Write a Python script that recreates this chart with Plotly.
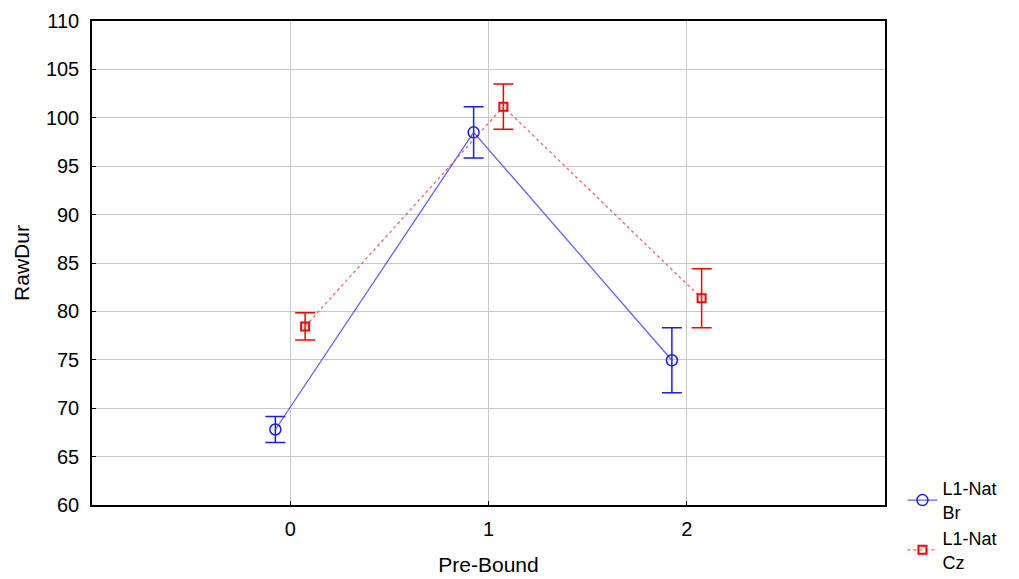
import plotly.graph_objects as go

categories = [0, 1, 2]
br_mean = [67.8, 98.5, 74.95]
br_err = [1.35, 2.65, 3.35]
cz_mean = [78.45, 101.15, 81.35]
cz_err = [1.4, 2.33, 3.05]
offset = 0.075

fig = go.Figure()
fig.add_trace(go.Scatter(
    x=[c - offset for c in categories], y=br_mean,
    mode="lines+markers", name="L1-Nat<br>Br",
    line=dict(color="rgba(70,70,255,0.85)", width=1.3),
    marker=dict(symbol="circle-open", size=11, color="#1a1aff", line=dict(width=1.5)),
    error_y=dict(type="data", array=br_err, visible=True, color="#1a1aff", thickness=1.5, width=10),
))
fig.add_trace(go.Scatter(
    x=[c + offset for c in categories], y=cz_mean,
    mode="lines+markers", name="L1-Nat<br>Cz",
    line=dict(color="rgba(255,70,70,0.85)", width=1.3, dash="dot"),
    marker=dict(symbol="square-open", size=8, color="#ff0000", line=dict(width=2)),
    error_y=dict(type="data", array=cz_err, visible=True, color="#ff0000", thickness=1.5, width=10),
))

# page body has an 8px default margin; compensate so the plot area lands where the reference has it
fig.update_layout(
    width=1011, height=571,
    margin=dict(l=84, r=134, t=13, b=74, autoexpand=False),
    paper_bgcolor="white", plot_bgcolor="white",
    font=dict(family="Liberation Sans, Arial, sans-serif", size=20, color="black"),
    showlegend=True,
    legend=dict(x=1.022, xanchor="left", y=0.072, yanchor="top",
                bgcolor="rgba(0,0,0,0)", font=dict(size=18)),
)
fig.update_xaxes(
    range=[-1, 3], tickvals=categories, ticktext=[str(c) for c in categories],
    showgrid=True, gridcolor="#c8c8c8", gridwidth=1,
    showline=True, linecolor="black", linewidth=1.5, mirror=True,
    ticks="inside", ticklen=4, tickcolor="black", automargin=False,
    ticklabelstandoff=5,
    title=dict(text="Pre-Bound", standoff=19, font=dict(size=21)), zeroline=False,
)
fig.update_yaxes(
    range=[60, 110], tickvals=list(range(60, 111, 5)),
    showgrid=True, gridcolor="#c8c8c8", gridwidth=1,
    showline=True, linecolor="black", linewidth=1.5, mirror=True,
    ticks="inside", ticklen=4, tickcolor="black", automargin=False,
    ticklabelstandoff=7,
    title=dict(text="RawDur", standoff=11, font=dict(size=21)), zeroline=False,
)

fig.write_html("out.html")
